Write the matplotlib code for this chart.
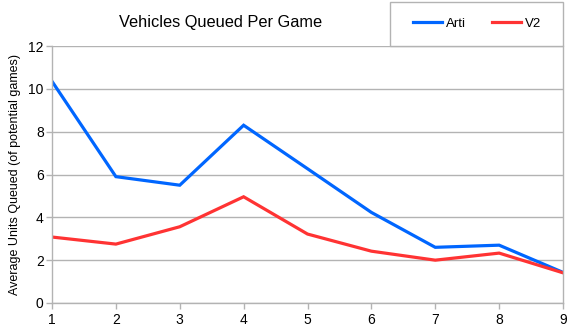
import matplotlib
matplotlib.use("Agg")
import matplotlib.pyplot as plt
from matplotlib.patches import Rectangle

plt.rcParams['font.family'] = ['Liberation Sans', 'DejaVu Sans']

# Data
games = [1, 2, 3, 4, 5, 6, 7, 8, 9]
arti = [10.35, 5.9, 5.5, 8.3, 6.27, 4.23, 2.6, 2.7, 1.43]
v2 = [3.08, 2.75, 3.56, 4.96, 3.22, 2.42, 2.0, 2.33, 1.41]
y_ticks = [0, 2, 4, 6, 8, 10, 12]

grey = "#b3b3b3"

fig = plt.figure(figsize=(5.75, 3.36), dpi=100)
ax = fig.add_axes([52 / 575, 33 / 336, 511 / 575, 257 / 336])

ax.plot(games, arti, color="#0066ff", lw=2.3, label="Arti", solid_joinstyle="miter")
ax.plot(games, v2, color="#ff3333", lw=2.3, label="V2", solid_joinstyle="miter")

ax.set_xlim(1, 9)
ax.set_ylim(0, 12)
ax.set_xticks(games)
ax.set_yticks(y_ticks)
ax.grid(axis="y", color=grey, lw=1)
ax.set_axisbelow(True)

for side in ["left", "right", "bottom"]:
    ax.spines[side].set_color(grey)
    ax.spines[side].set_linewidth(1)
ax.spines["top"].set_visible(False)
ax.tick_params(colors=grey, labelcolor="black", labelsize=10, length=4, width=1)
ax.tick_params(axis="x", pad=3)
ax.tick_params(axis="y", pad=2)

ax.set_ylabel("Average Units Queued (of potential games)", fontsize=9, labelpad=5)
fig.text(221 / 575, 1 - 22 / 336, "Vehicles Queued Per Game", ha="center", va="center", fontsize=11.8)

# Legend box sitting on top of the plot, right aligned
fig.patches.append(Rectangle((390 / 575, 1 - 46 / 336), 173 / 575, 44 / 336,
                             transform=fig.transFigure, fill=False, edgecolor=grey, lw=1))
fig.legend(loc="center", bbox_to_anchor=(477 / 575, 1 - 24 / 336), ncol=2, frameon=False,
           fontsize=9.5, handlelength=2.2, handletextpad=0.3, columnspacing=2.0)

fig.savefig("out.png", dpi=100)
